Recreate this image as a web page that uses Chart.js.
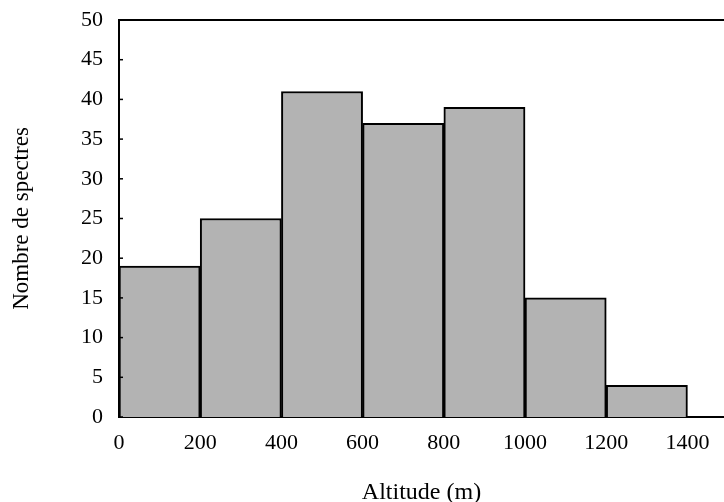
<!DOCTYPE html>
<html lang="fr">
<head>
  <meta charset="UTF-8">
  <title>Nombre de spectres par altitude</title>
  <script src="https://cdn.jsdelivr.net/npm/chart.js"></script>
  <style>
    html, body { margin: 0; padding: 0; background: #ffffff; }
    #wrap { width: 724px; height: 502px; }
  </style>
</head>
<body>
<div id="wrap"><canvas id="histo" width="724" height="502"></canvas></div>
<script>
  // bins (lower edge) and counts
  const binStarts = [0, 200, 400, 600, 800, 1000, 1200];
  const binWidth = 200;
  const counts = [19, 25, 41, 37, 39, 15, 4];
  const xTicks = [0, 200, 400, 600, 800, 1000, 1200, 1400];
  const yTicks = [0, 5, 10, 15, 20, 25, 30, 35, 40, 45, 50];

  const serif = "'Liberation Serif', 'Times New Roman', serif";

  // top border + small inward ticks on the left axis
  const framePlugin = {
    id: 'frame',
    afterDraw(chart) {
      const { ctx, chartArea, scales } = chart;
      ctx.save();
      ctx.strokeStyle = '#000';
      ctx.lineWidth = 2;
      ctx.beginPath();
      ctx.moveTo(chartArea.left, chartArea.top);
      ctx.lineTo(chartArea.right, chartArea.top);
      ctx.stroke();
      ctx.lineWidth = 1.5;
      yTicks.forEach(v => {
        const y = scales.y.getPixelForValue(v);
        ctx.beginPath();
        ctx.moveTo(chartArea.left, y);
        ctx.lineTo(chartArea.left + 4, y);
        ctx.stroke();
      });
      ctx.restore();
    }
  };

  const ctx = document.getElementById('histo').getContext('2d');
  new Chart(ctx, {
    type: 'bar',
    data: {
      datasets: [{
        data: binStarts.map((s, i) => ({ x: s + binWidth / 2, y: counts[i] })),
        backgroundColor: '#b3b3b3',
        borderColor: '#000000',
        borderWidth: 2,
        barPercentage: 1,
        categoryPercentage: 1
      }]
    },
    options: {
      responsive: false,
      animation: false,
      layout: { padding: { top: 20, right: 0, left: 4, bottom: 0 } },
      plugins: { legend: { display: false }, tooltip: { enabled: false } },
      scales: {
        x: {
          type: 'linear',
          min: 0,
          max: 1490,
          offset: false,
          grid: { display: false, drawTicks: false },
          border: { display: true, color: '#000', width: 2 },
          afterBuildTicks: s => { s.ticks = xTicks.map(v => ({ value: v })); },
          afterFit: s => { s.height = 85; s.paddingRight = 0; },
          ticks: {
            color: '#000',
            padding: 13,
            maxRotation: 0,
            autoSkip: false,
            callback: v => String(v),
            font: { family: serif, size: 22 }
          },
          title: {
            display: true,
            text: 'Altitude (m)',
            color: '#000',
            padding: { top: 0, bottom: -5 },
            font: { family: serif, size: 24 }
          }
        },
        y: {
          min: 0,
          max: 50,
          grid: { display: false, drawTicks: false },
          border: { display: true, color: '#000', width: 2 },
          afterBuildTicks: s => { s.ticks = yTicks.map(v => ({ value: v })); },
          afterFit: s => { s.width = 115; s.paddingTop = 0; s.paddingBottom = 0; },
          ticks: {
            color: '#000',
            padding: 16,
            callback: v => String(v),
            font: { family: serif, size: 22 }
          },
          title: {
            display: true,
            text: 'Nombre de spectres',
            color: '#000',
            padding: { bottom: 0 },
            font: { family: serif, size: 23 }
          }
        }
      }
    },
    plugins: [framePlugin]
  });
</script>
</body>
</html>
